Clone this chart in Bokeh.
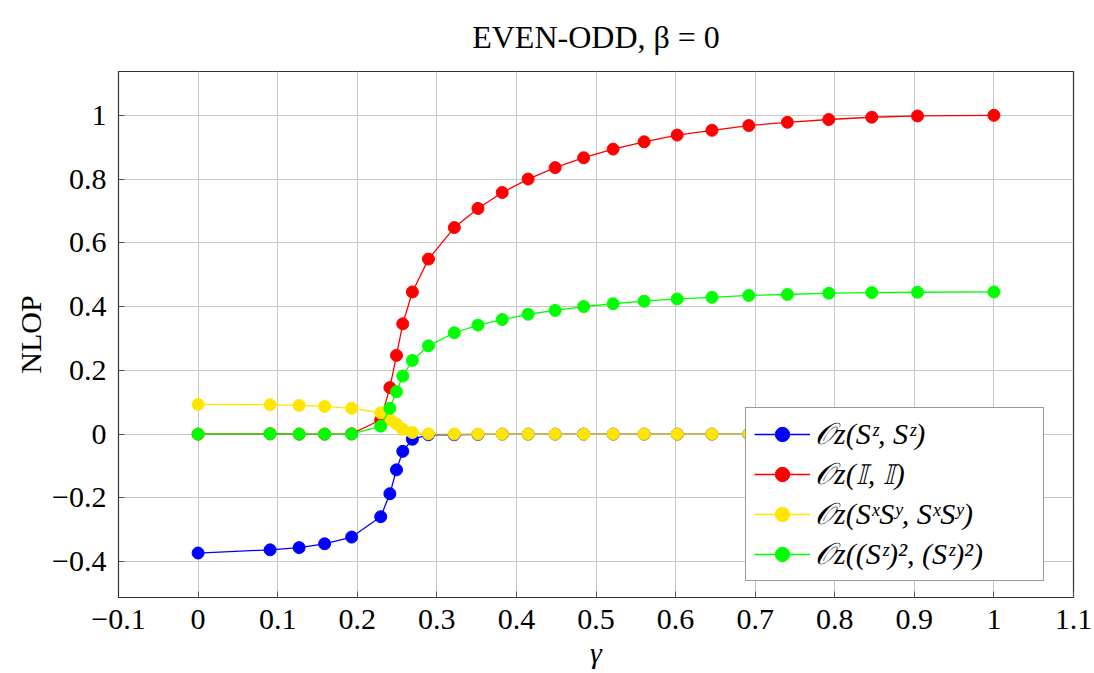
from bokeh.plotting import figure
from bokeh.models import Range1d, FixedTicker, Legend, LegendItem
from bokeh.embed import file_html
from bokeh.resources import INLINE

# ---- data ----
gamma = [0.0, 0.0905, 0.127, 0.159, 0.193, 0.2295, 0.241, 0.2493, 0.2572, 0.2693,
         0.2895, 0.3220, 0.3517, 0.3822, 0.4147, 0.4487, 0.4845, 0.5215, 0.5605,
         0.6020, 0.6457, 0.6920, 0.7405, 0.7925, 0.8465, 0.9040, 1.0]

o_szsz = [-0.373, -0.363, -0.356, -0.344, -0.323, -0.259, -0.187, -0.112, -0.054, -0.016,
          -0.002, -0.002, -0.001, 0.0, 0.0, 0.0, 0.0, 0.0, 0.0,
          0.0, 0.0, 0.0, 0.0, 0.0, 0.0, 0.0, 0.0]

o_ii = [0.0, 0.001, 0.0, 0.0, 0.001, 0.045, 0.146, 0.247, 0.346, 0.446,
        0.549, 0.648, 0.708, 0.758, 0.800, 0.836, 0.867, 0.894, 0.917,
        0.938, 0.953, 0.968, 0.978, 0.987, 0.994, 0.998, 1.0]

o_sxsy = [0.093, 0.092, 0.090, 0.087, 0.081, 0.067, 0.046, 0.032, 0.015, 0.005,
          0.001, 0.0, 0.0, 0.0, 0.0, 0.0, 0.0, 0.0, 0.0,
          0.0, 0.0, 0.0, 0.0, 0.0, 0.0, 0.0, 0.0]

o_sz2 = [0.0, 0.001, 0.0, 0.0, 0.0, 0.025, 0.081, 0.133, 0.182, 0.231,
         0.277, 0.318, 0.342, 0.3595, 0.376, 0.388, 0.400, 0.409, 0.417,
         0.424, 0.429, 0.435, 0.438, 0.442, 0.444, 0.445, 0.446]

series_labels = ["𝒪z(Sᶻ, Sᶻ)", "𝒪z(𝕀, 𝕀)", "𝒪z(SˣSʸ, SˣSʸ)", "𝒪z((Sᶻ)², (Sᶻ)²)"]
series_colors = ["#0000ff", "#ff0000", "#ffe600", "#00ff00"]

x_ticks = [-0.1, 0.0, 0.1, 0.2, 0.3, 0.4, 0.5, 0.6, 0.7, 0.8, 0.9, 1.0, 1.1]
x_tick_labels = ["−0.1", "0", "0.1", "0.2", "0.3", "0.4", "0.5", "0.6", "0.7", "0.8", "0.9", "1", "1.1"]
y_ticks = [-0.4, -0.2, 0.0, 0.2, 0.4, 0.6, 0.8, 1.0]
y_tick_labels = ["−0.4", "−0.2", "0", "0.2", "0.4", "0.6", "0.8", "1"]

FONT = "Liberation Serif"
FS = "30px"

p = figure(width=1094, height=673, output_backend="svg", toolbar_location=None,
           x_range=Range1d(-0.1, 1.1), y_range=Range1d(-0.5125, 1.1375),
           min_border_left=118, min_border_right=21, min_border_top=71, min_border_bottom=76,
           title="EVEN-ODD, β = 0")
p.title.align = "center"
p.title.text_font = FONT
p.title.text_font_size = "32px"
p.title.text_font_style = "normal"
p.title.text_color = "black"
p.title.offset = 0
p.title.standoff = 33

p.outline_line_color = "#333333"
p.outline_line_width = 1.2
p.background_fill_color = "white"
p.border_fill_color = "white"

for ax in (p.xaxis[0], p.yaxis[0]):
    ax.major_label_text_font = FONT
    ax.major_label_text_font_size = FS
    ax.major_label_text_color = "black"
    ax.axis_label_text_font = FONT
    ax.axis_label_text_font_size = FS
    ax.axis_label_text_font_style = "normal"
    ax.axis_label_text_color = "black"
    ax.major_tick_in = 6
    ax.major_tick_out = 0
    ax.major_tick_line_color = "#555555"
    ax.minor_tick_line_color = None
    ax.axis_line_color = "#333333"

p.xaxis[0].ticker = FixedTicker(ticks=x_ticks)
p.xaxis[0].major_label_overrides = {t: l for t, l in zip(x_ticks, x_tick_labels)}
p.xaxis[0].axis_label = "γ"
p.xaxis[0].axis_label_text_font_style = "italic"
p.xaxis[0].major_label_standoff = 12
p.xaxis[0].axis_label_standoff = 4

p.yaxis[0].ticker = FixedTicker(ticks=y_ticks)
p.yaxis[0].major_label_overrides = {t: l for t, l in zip(y_ticks, y_tick_labels)}
p.yaxis[0].axis_label = "NLOP"
p.yaxis[0].major_label_standoff = 12
p.yaxis[0].axis_label_standoff = 2

p.xgrid.ticker = FixedTicker(ticks=x_ticks)
p.ygrid.ticker = FixedTicker(ticks=y_ticks)
p.grid.grid_line_color = "#c8c8c8"
p.grid.grid_line_width = 1

items = []
for vals, lab, col in zip([o_szsz, o_ii, o_sxsy, o_sz2], series_labels, series_colors):
    r1 = p.line(gamma, vals, line_color=col, line_width=1.3)
    r2 = p.scatter(gamma, vals, size=12, fill_color=col, line_color=col)
    items.append(LegendItem(label=lab, renderers=[r1, r2]))

legend = Legend(items=items, location=(627, 16))
legend.label_text_font = FONT
legend.label_text_font_size = "30px"
legend.label_text_font_style = "italic"
legend.label_text_color = "black"
legend.glyph_width = 56
legend.glyph_height = 36
legend.label_height = 36
legend.label_width = 220
legend.spacing = 4
legend.padding = 8
legend.border_line_color = "#333333"
legend.border_line_width = 1.2
legend.background_fill_alpha = 1.0
p.add_layout(legend, "center")

open("out.html", "w").write(file_html(p, INLINE))
